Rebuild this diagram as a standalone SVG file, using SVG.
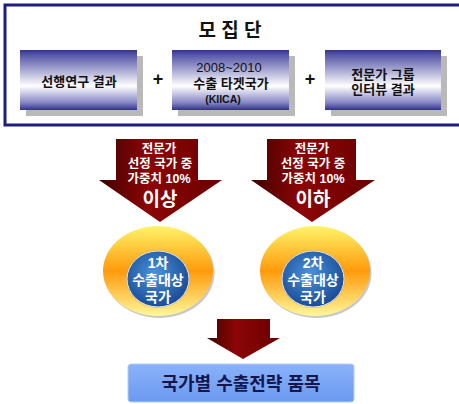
<svg xmlns="http://www.w3.org/2000/svg" width="459" height="404" viewBox="0 0 459 404">
<defs>
<linearGradient id="boxg" x1="0" y1="0" x2="0" y2="1">
<stop offset="0" stop-color="#34348f"/>
<stop offset="0.08" stop-color="#5555a8"/>
<stop offset="0.6" stop-color="#ffffff"/>
<stop offset="0.88" stop-color="#8585c4"/>
<stop offset="1" stop-color="#30308c"/>
</linearGradient>
<linearGradient id="arrg" x1="0" y1="0" x2="1" y2="0">
<stop offset="0" stop-color="#420000"/>
<stop offset="0.4" stop-color="#8c0606"/>
<stop offset="1" stop-color="#6a0000"/>
</linearGradient>
<linearGradient id="ringg" x1="0" y1="0" x2="0" y2="1">
<stop offset="0" stop-color="#fff46a"/>
<stop offset="0.5" stop-color="#ff9a0c"/>
<stop offset="1" stop-color="#fff89a"/>
</linearGradient>
<radialGradient id="blueg" cx="0.45" cy="0.4" r="0.6">
<stop offset="0" stop-color="#4a92da"/>
<stop offset="1" stop-color="#1a4c96"/>
</radialGradient>
<linearGradient id="botg" x1="0" y1="0" x2="0" y2="1">
<stop offset="0" stop-color="#8ab2fa"/>
<stop offset="1" stop-color="#6c9af0"/>
</linearGradient>
<style>
text{font-family:"Liberation Sans","Noto Sans CJK KR",sans-serif;font-weight:bold;text-anchor:middle}
.bx{fill:url(#boxg)}
.sh{fill:#b9b9b9}
.bt{font-size:13px;fill:#111}
.wt{font-size:12.5px;fill:#ffffff}
.big{font-size:19px;fill:#ffffff}
.ct{font-size:14px;fill:#ffffff}
.pl{font-size:18px;fill:#111}
.arr{fill:url(#arrg)}
</style>
</defs>
<g id="population">
<rect x="5" y="5" width="460" height="120" fill="#ffffff" stroke="#1c1c82" stroke-width="3"/>
<text x="230" y="37" style="font-size:19px;fill:#111">모 집 단</text>
</g>
<g id="box1">
<rect class="sh" x="26" y="56" width="117" height="60"/>
<rect class="bx" x="20" y="50" width="117" height="60"/>
<text class="bt" x="79" y="86">선행연구 결과</text>
</g>
<g id="plus1"><text class="pl" x="158" y="85">+</text></g>
<g id="box2">
<rect class="sh" x="178" y="56" width="117" height="60"/>
<rect class="bx" x="172" y="50" width="117" height="60"/>
<text class="bt" x="229" y="72" style="font-weight:normal">2008~2010</text>
<text class="bt" x="231" y="88">수출 타겟국가</text>
<text class="bt" x="223" y="103" style="font-size:10.5px">(KIICA)</text>
</g>
<g id="plus2"><text class="pl" x="310" y="85">+</text></g>
<g id="box3">
<rect class="sh" x="331" y="56" width="116" height="60"/>
<rect class="bx" x="325" y="50" width="116" height="60"/>
<text class="bt" x="383" y="79">전문가 그룹</text>
<text class="bt" x="383" y="94">인터뷰 결과</text>
</g>
<g id="connectors">
<g id="arrowLeft">
<polygon class="arr" points="116,139 198,139 198,180 222,180 160,222 99,180 116,180"/>
<text class="wt" x="159" y="153">전문가</text>
<text class="wt" x="160" y="168">선정 국가 중</text>
<text class="wt" x="159" y="183">가중치 10%</text>
<text class="big" x="160" y="206">이상</text>
</g>
<g id="arrowRight">
<polygon class="arr" points="267,139 356,139 356,180 375,180 312,222 251,180 267,180"/>
<text class="wt" x="312" y="153">전문가</text>
<text class="wt" x="313" y="168">선정 국가 중</text>
<text class="wt" x="313" y="183">가중치 10%</text>
<text class="big" x="313" y="206">이하</text>
</g>
<g id="arrowDown">
<polygon class="arr" points="217,319 270,319 270,338 280,338 243,359 207,338 217,338"/>
</g>
</g>
<g id="circle1">
<ellipse cx="159.5" cy="273" rx="55" ry="45" fill="#c9c9c9"/>
<ellipse cx="158" cy="271" rx="55" ry="45" fill="url(#ringg)"/>
<ellipse cx="158" cy="279" rx="32" ry="29" fill="#e9a020" opacity="0.6"/>
<ellipse cx="158" cy="279" rx="31" ry="28" fill="url(#blueg)" stroke="#d8e6f6" stroke-width="1"/>
<text class="ct" x="158" y="268">1차</text>
<text class="ct" x="158" y="285">수출대상</text>
<text class="ct" x="158" y="302">국가</text>
</g>
<g id="circle2">
<ellipse cx="316.5" cy="273" rx="55" ry="45" fill="#c9c9c9"/>
<ellipse cx="315" cy="271" rx="55" ry="45" fill="url(#ringg)"/>
<ellipse cx="313" cy="279" rx="32" ry="29" fill="#e9a020" opacity="0.6"/>
<ellipse cx="313" cy="279" rx="31" ry="28" fill="url(#blueg)" stroke="#d8e6f6" stroke-width="1"/>
<text class="ct" x="313" y="268">2차</text>
<text class="ct" x="313" y="285">수출대상</text>
<text class="ct" x="313" y="302">국가</text>
</g>
<g id="result">
<rect x="128" y="364" width="226" height="38" rx="3" fill="url(#botg)" stroke="#b4ccf2" stroke-width="1"/>
<text x="241" y="390" style="font-size:18px;fill:#16164e">국가별 수출전략 품목</text>
</g>
</svg>
